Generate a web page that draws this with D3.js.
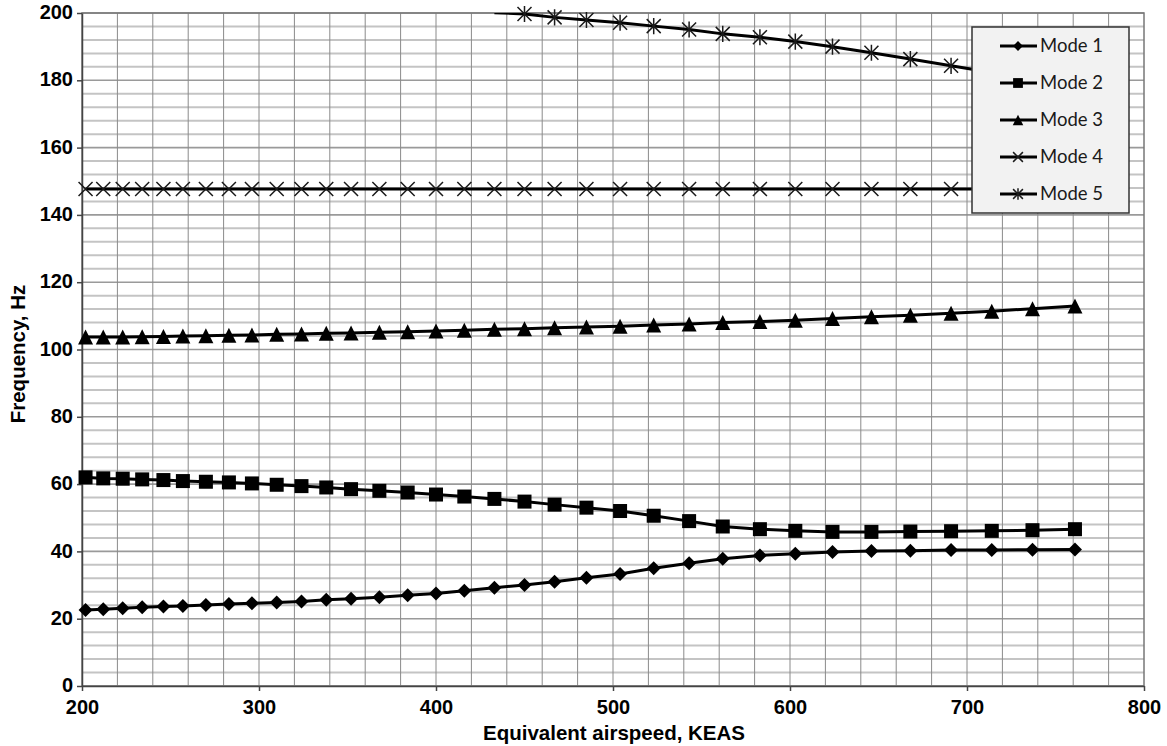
<!DOCTYPE html>
<html lang="en">
<head>
<meta charset="UTF-8"/>
<script src="https://d3js.org/d3.v7.min.js"></script>
<style>
body { margin: 0; background: #fff; }
svg { display: block; }
text { font-family: 'Liberation Sans', Arial, sans-serif; fill: #000; }
.axis text { font-size: 20px; font-weight: bold; }
.axis path, .axis line { stroke: #444; stroke-width: 1.5; }
.axis_title { font-size: 20.5px; font-weight: bold; }
.grid_v { stroke: #8a8a8a; stroke-width: 1; }
.grid_h { stroke: #c4c4c4; stroke-width: 2; }
.grid_h.major { stroke: #9a9a9a; stroke-width: 1.6; }
.line { fill: none; stroke: #000; stroke-width: 3; }
.legend text { font-family: Lato, 'Open Sans', sans-serif; font-size: 18.5px; fill: #1a1a1a; }
</style>
</head>
<body>
<svg width="1167" height="746"></svg>
<script>
// airspeed points (KEAS)
const keas = [202, 212, 223, 234, 246, 257, 270, 283, 296, 310, 324, 338, 352, 368, 384, 400, 416,
              433, 450, 467, 485, 504, 523, 543, 562, 583, 603, 624, 646, 668, 691, 714, 737, 761];

const mode1 = [22.6, 22.8, 23.1, 23.4, 23.6, 23.8, 24.1, 24.4, 24.6, 24.8, 25.1, 25.6, 25.9, 26.4, 27.0, 27.5, 28.3,
               29.2, 30.0, 31.0, 32.2, 33.3, 35.0, 36.5, 37.8, 38.8, 39.3, 39.8, 40.1, 40.2, 40.4, 40.4, 40.5, 40.6];
const mode2 = [62.0, 61.7, 61.6, 61.4, 61.2, 60.9, 60.7, 60.5, 60.2, 59.8, 59.4, 59.0, 58.5, 58.0, 57.5, 56.9, 56.3,
               55.6, 54.8, 53.9, 53.0, 52.0, 50.6, 49.0, 47.4, 46.6, 46.1, 45.8, 45.8, 45.9, 46.0, 46.1, 46.3, 46.6];
const mode3 = [103.7, 103.7, 103.7, 103.8, 103.9, 104.0, 104.1, 104.2, 104.3, 104.5, 104.6, 104.8, 104.9, 105.1, 105.3, 105.5, 105.7,
               106.0, 106.2, 106.5, 106.7, 106.9, 107.3, 107.6, 108.0, 108.3, 108.7, 109.2, 109.7, 110.2, 110.8, 111.4, 112.1, 112.9];
const mode4 = [147.7, 147.7, 147.7, 147.7, 147.7, 147.7, 147.7, 147.7, 147.7, 147.7, 147.7, 147.7, 147.7, 147.7, 147.7, 147.7, 147.7,
               147.7, 147.7, 147.7, 147.7, 147.7, 147.7, 147.7, 147.7, 147.7, 147.7, 147.7, 147.7, 147.7, 147.7, 147.7, 147.7, 147.7];
const mode5 = [null, null, null, null, null, null, null, null, null, null, null, null, null, null, null, null, null,
               200.1, 199.7, 198.7, 197.9, 197.1, 196.1, 195.1, 193.8, 192.8, 191.5, 190.0, 188.2, 186.3, 184.3, 182.3, 180.2, 177.8];

const seriesNames = ['Mode 1', 'Mode 2', 'Mode 3', 'Mode 4', 'Mode 5'];
const xTicks = [200, 300, 400, 500, 600, 700, 800];
const yTicks = [0, 20, 40, 60, 80, 100, 120, 140, 160, 180, 200];

const svg = d3.select('svg');

const plot = { left: 82, right: 1144, top: 13, bottom: 686 };

const x = d3.scaleLinear().domain([200, 800]).range([plot.left, plot.right]);
const y = d3.scaleLinear().domain([0, 200]).range([plot.bottom, plot.top]);

// grid
svg.append('g').selectAll('line')
  .data(d3.range(0, 201, 4))
  .join('line')
  .attr('class', d => d % 20 === 0 ? 'grid_h major' : 'grid_h')
  .attr('x1', plot.left).attr('x2', plot.right)
  .attr('y1', d => y(d)).attr('y2', d => y(d));

svg.append('g').selectAll('line')
  .data(d3.range(220, 800, 20))
  .join('line')
  .attr('class', 'grid_v')
  .attr('x1', d => x(d)).attr('x2', d => x(d))
  .attr('y1', plot.top).attr('y2', plot.bottom);

svg.append('rect')
  .attr('x', plot.left).attr('y', plot.top)
  .attr('width', plot.right - plot.left).attr('height', plot.bottom - plot.top)
  .attr('fill', 'none').attr('stroke', '#777').attr('stroke-width', 1.5);

// axes
svg.append('g')
  .attr('class', 'axis')
  .attr('transform', `translate(0,${plot.bottom})`)
  .call(d3.axisBottom(x).tickValues(xTicks).tickSize(5).tickPadding(9).tickSizeOuter(0));

svg.append('g')
  .attr('class', 'axis')
  .attr('transform', `translate(${plot.left},0)`)
  .call(d3.axisLeft(y).tickValues(yTicks).tickSize(5).tickPadding(4).tickSizeOuter(0))
  .selectAll('text').attr('dy', '0.28em');

svg.append('text')
  .attr('class', 'axis_title')
  .attr('x', 614).attr('y', 740)
  .attr('text-anchor', 'middle')
  .text('Equivalent airspeed, KEAS');

svg.append('text')
  .attr('class', 'axis_title')
  .attr('transform', 'translate(25,354) rotate(-90)')
  .attr('text-anchor', 'middle')
  .text('Frequency, Hz');

// markers
function drawMarker(g, type, s) {
  if (type === 0) {
    g.append('path').attr('d', `M0,${-7*s}L${7*s},0L0,${7*s}L${-7*s},0Z`).attr('fill', '#000');
  } else if (type === 1) {
    g.append('rect').attr('x', -7*s).attr('y', -7*s).attr('width', 14*s).attr('height', 14*s).attr('fill', '#000');
  } else if (type === 2) {
    g.append('path').attr('d', `M0,${-7.5*s}L${7.5*s},${7.5*s}L${-7.5*s},${7.5*s}Z`).attr('fill', '#000');
  } else {
    const r = 7 * s;
    let d = `M${-r},${-r}L${r},${r}M${-r},${r}L${r},${-r}`;
    if (type === 4) d += `M0,${-r*1.15}L0,${r*1.15}`;
    g.append('path').attr('d', d).attr('fill', 'none').attr('stroke', '#1a1a1a').attr('stroke-width', 1.5);
  }
}

svg.append('clipPath').attr('id', 'clip')
  .append('rect')
  .attr('x', plot.left).attr('y', plot.top)
  .attr('width', plot.right - plot.left).attr('height', plot.bottom - plot.top);

const series = [mode1, mode2, mode3, mode4, mode5];
const lines = svg.append('g').attr('clip-path', 'url(#clip)');
const marks = svg.append('g');

const line = d3.line()
  .defined(d => d[1] !== null)
  .x(d => x(d[0]))
  .y(d => y(d[1]));

series.forEach((vals, i) => {
  const pts = keas.map((k, j) => [k, vals[j]]);
  lines.append('path').datum(pts).attr('class', 'line').attr('d', line);
  // points outside the axis range get no marker
  marks.append('g').selectAll('g')
    .data(pts.filter(p => p[1] !== null && p[1] <= 200))
    .join('g')
    .attr('transform', p => `translate(${x(p[0])},${y(p[1])})`)
    .each(function () { drawMarker(d3.select(this), i, 1); });
});

// legend
const legend = svg.append('g').attr('class', 'legend');
legend.append('rect')
  .attr('x', 972).attr('y', 27)
  .attr('width', 157).attr('height', 186)
  .attr('fill', '#f2f2f2').attr('stroke', '#333').attr('stroke-width', 1.5);

const rowY = d3.scalePoint().domain(seriesNames).range([46, 194]);

seriesNames.forEach((name, i) => {
  const ry = rowY(name);
  legend.append('line')
    .attr('x1', 1000).attr('x2', 1037).attr('y1', ry).attr('y2', ry)
    .attr('stroke', '#000').attr('stroke-width', 3);
  drawMarker(legend.append('g').attr('transform', `translate(1018,${ry})`), i, 0.7);
  legend.append('text')
    .attr('x', 1040).attr('y', ry + 6)
    .text(name);
});
</script>
</body>
</html>
